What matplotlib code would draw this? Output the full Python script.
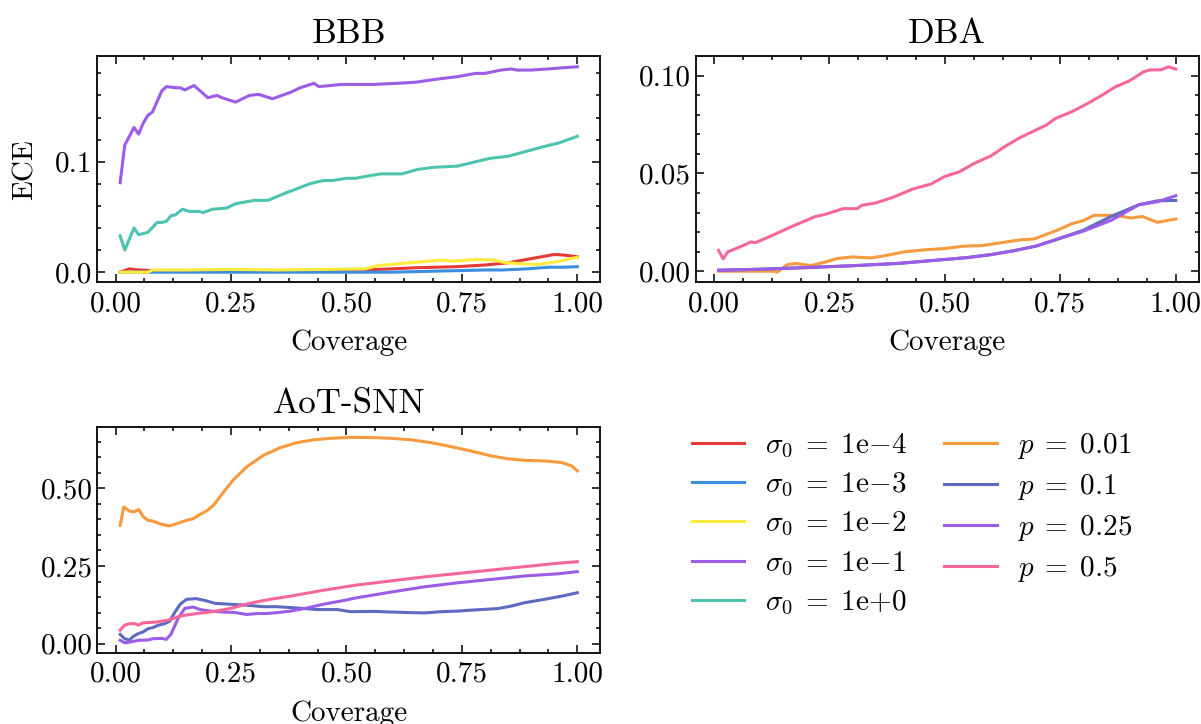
import matplotlib
matplotlib.use("Agg")
import matplotlib.pyplot as plt
from matplotlib.ticker import AutoMinorLocator

plt.rcParams.update({
    "font.family": "serif",
    "font.serif": ["cmr10"],
    "mathtext.fontset": "cm",
    "axes.formatter.use_mathtext": True,
    "font.size": 21,
    "axes.linewidth": 1.3,
    "xtick.direction": "in",
    "ytick.direction": "in",
    "xtick.top": True,
    "ytick.right": True,
    "xtick.major.size": 6,
    "ytick.major.size": 6,
    "xtick.minor.size": 3,
    "ytick.minor.size": 3,
    "xtick.major.width": 1.1,
    "ytick.major.width": 1.1,
    "xtick.minor.width": 1.1,
    "ytick.minor.width": 1.1,
    "xtick.minor.visible": True,
    "ytick.minor.visible": True,
})

# ---- BBB (sigma_0 sweep) ----
bbb_s4_cov = [0.01, 0.03, 0.05, 0.10, 0.20, 0.30, 0.40, 0.50, 0.57, 0.65, 0.74, 0.80, 0.85, 0.91, 0.95, 0.97, 1.00]
bbb_s4_ece = [0.000, 0.003, 0.002, 0.001, 0.001, 0.001, 0.001, 0.002, 0.0025, 0.004, 0.005, 0.0065, 0.0085, 0.013, 0.016, 0.0155, 0.014]

bbb_s3_cov = [0.01, 0.10, 0.20, 0.30, 0.40, 0.50, 0.60, 0.70, 0.80, 0.84, 0.89, 0.94, 0.97, 1.00]
bbb_s3_ece = [0.000, 0.000, 0.000, 0.000, 0.000, 0.000, 0.000, 0.001, 0.002, 0.002, 0.003, 0.0045, 0.0045, 0.005]

bbb_s2_cov = [0.01, 0.07, 0.08, 0.15, 0.25, 0.35, 0.45, 0.54, 0.57, 0.61, 0.65, 0.71, 0.73, 0.78, 0.82, 0.84, 0.88, 0.915, 0.96, 1.00]
bbb_s2_ece = [0.000, 0.000, 0.002, 0.002, 0.0025, 0.002, 0.0025, 0.003, 0.006, 0.0075, 0.009, 0.011, 0.010, 0.0115, 0.011, 0.009, 0.0075, 0.007, 0.0097, 0.0136]

bbb_s1_cov = [0.01, 0.02, 0.04, 0.05, 0.06, 0.07, 0.08, 0.10, 0.11, 0.13, 0.14, 0.15, 0.17, 0.20, 0.22, 0.23, 0.26, 0.29, 0.31, 0.34, 0.36, 0.38, 0.40,
              0.43, 0.44, 0.49, 0.56, 0.61, 0.65, 0.70, 0.74, 0.78, 0.80, 0.835, 0.857, 0.87, 0.90, 0.937, 0.966, 1.00]
bbb_s1_ece = [0.081, 0.115, 0.131, 0.125, 0.135, 0.142, 0.145, 0.164, 0.168, 0.167, 0.167, 0.165, 0.169, 0.158, 0.160, 0.158, 0.154, 0.160, 0.161, 0.157, 0.160, 0.163, 0.167,
              0.171, 0.168, 0.170, 0.170, 0.171, 0.172, 0.175, 0.177, 0.180, 0.180, 0.183, 0.184, 0.183, 0.183, 0.184, 0.185, 0.186]

bbb_s0_cov = [0.01, 0.02, 0.04, 0.05, 0.07, 0.09, 0.10, 0.11, 0.12, 0.13, 0.145, 0.16, 0.18, 0.19, 0.21, 0.24, 0.26, 0.30, 0.33, 0.37, 0.39, 0.42, 0.45, 0.47,
              0.50, 0.52, 0.545, 0.575, 0.62, 0.654, 0.69, 0.74, 0.76, 0.81, 0.85, 0.886, 0.93, 0.96, 1.00]
bbb_s0_ece = [0.033, 0.020, 0.040, 0.034, 0.036, 0.045, 0.045, 0.046, 0.051, 0.052, 0.057, 0.055, 0.055, 0.054, 0.057, 0.058, 0.062, 0.065, 0.065, 0.072, 0.075, 0.080, 0.083, 0.083,
              0.085, 0.085, 0.087, 0.089, 0.089, 0.093, 0.095, 0.096, 0.098, 0.103, 0.105, 0.109, 0.114, 0.117, 0.123]

# ---- DBA (p sweep) ----
dba_p001_cov = [0.01, 0.13, 0.137, 0.159, 0.179, 0.21, 0.243, 0.267, 0.30, 0.34, 0.372, 0.412, 0.46, 0.50, 0.54, 0.58, 0.62, 0.662, 0.694, 0.718, 0.75,
                0.775, 0.80, 0.823, 0.847, 0.871, 0.903, 0.928, 0.96, 1.00]
dba_p001_ece = [0.000, 0.000, -0.0005, 0.0034, 0.0039, 0.0029, 0.0048, 0.0065, 0.0073, 0.0068, 0.008, 0.0099, 0.011, 0.0116, 0.0128, 0.0131, 0.0145, 0.016, 0.0165, 0.0187, 0.0216,
                0.0243, 0.0259, 0.0286, 0.0286, 0.0286, 0.0272, 0.028, 0.025, 0.0267]

dba_p01_cov = [0.01, 0.10, 0.20, 0.30, 0.40, 0.50, 0.55, 0.60, 0.65, 0.70, 0.75, 0.80, 0.86, 0.92, 0.96, 1.00]
dba_p01_ece = [0.0005, 0.001, 0.0019, 0.0028, 0.004, 0.006, 0.007, 0.0085, 0.0105, 0.013, 0.0168, 0.021, 0.028, 0.034, 0.036, 0.0362]

dba_p025_cov = [0.01, 0.10, 0.20, 0.30, 0.40, 0.50, 0.55, 0.60, 0.65, 0.70, 0.75, 0.80, 0.86, 0.92, 0.96, 1.00]
dba_p025_ece = [0.0005, 0.001, 0.0018, 0.0028, 0.004, 0.006, 0.007, 0.0085, 0.0105, 0.013, 0.017, 0.0205, 0.026, 0.034, 0.0355, 0.0386]

dba_p05_cov = [0.01, 0.02, 0.03, 0.06, 0.08, 0.09, 0.13, 0.17, 0.22, 0.24, 0.28, 0.31, 0.32, 0.35, 0.39, 0.43, 0.47, 0.50, 0.53, 0.565, 0.60, 0.63,
               0.66, 0.69, 0.72, 0.74, 0.775, 0.81, 0.84, 0.87, 0.90, 0.93, 0.944, 0.968, 0.984, 1.00]
dba_p05_ece = [0.0107, 0.0063, 0.0099, 0.0128, 0.015, 0.0146, 0.0187, 0.023, 0.028, 0.029, 0.032, 0.032, 0.0337, 0.0349, 0.038, 0.042, 0.0446, 0.0485, 0.0507, 0.0553, 0.059, 0.0638,
               0.068, 0.0714, 0.0748, 0.0782, 0.0816, 0.0859, 0.090, 0.0944, 0.0974, 0.102, 0.103, 0.103, 0.1046, 0.1034]

# ---- AoT-SNN (p sweep) ----
aot_p001_cov = [0.01, 0.018, 0.03, 0.04, 0.05, 0.06, 0.07, 0.08, 0.10, 0.117, 0.132, 0.154, 0.168, 0.183, 0.197, 0.212, 0.233, 0.255, 0.284, 0.32,
                0.357, 0.393, 0.429, 0.466, 0.509, 0.56, 0.596, 0.64, 0.683, 0.727, 0.77, 0.814, 0.85, 0.886, 0.93, 0.966, 0.988, 1.00]
aot_p001_ece = [0.381, 0.440, 0.427, 0.424, 0.432, 0.409, 0.397, 0.395, 0.384, 0.379, 0.386, 0.397, 0.402, 0.416, 0.427, 0.445, 0.486, 0.527, 0.569, 0.606,
                0.631, 0.647, 0.656, 0.661, 0.664, 0.663, 0.661, 0.656, 0.647, 0.634, 0.620, 0.604, 0.595, 0.590, 0.588, 0.583, 0.572, 0.556]

aot_p01_cov = [0.01, 0.02, 0.03, 0.04, 0.05, 0.06, 0.07, 0.081, 0.092, 0.107, 0.117, 0.128, 0.14, 0.154, 0.175, 0.194, 0.215, 0.248, 0.284, 0.32,
               0.35, 0.393, 0.436, 0.48, 0.509, 0.56, 0.596, 0.64, 0.669, 0.705, 0.741, 0.77, 0.828, 0.857, 0.886, 0.93, 0.966, 1.00]
aot_p01_ece = [0.030, 0.016, 0.012, 0.025, 0.033, 0.038, 0.048, 0.052, 0.059, 0.065, 0.072, 0.100, 0.127, 0.143, 0.145, 0.139, 0.130, 0.127, 0.124, 0.119,
               0.119, 0.115, 0.110, 0.110, 0.103, 0.104, 0.102, 0.100, 0.099, 0.103, 0.105, 0.108, 0.113, 0.121, 0.132, 0.143, 0.153, 0.164]

aot_p025_cov = [0.01, 0.02, 0.03, 0.05, 0.07, 0.08, 0.10, 0.11, 0.12, 0.135, 0.15, 0.168, 0.183, 0.205, 0.233, 0.26, 0.284, 0.306, 0.327, 0.35,
                0.379, 0.415, 0.45, 0.487, 0.523, 0.56, 0.596, 0.669, 0.741, 0.814, 0.886, 0.959, 1.00]
aot_p025_ece = [0.011, 0.003, 0.005, 0.011, 0.012, 0.016, 0.017, 0.014, 0.030, 0.080, 0.114, 0.118, 0.110, 0.105, 0.102, 0.100, 0.094, 0.097, 0.097, 0.100,
                0.105, 0.115, 0.127, 0.137, 0.148, 0.157, 0.166, 0.183, 0.196, 0.207, 0.218, 0.225, 0.232]

aot_p05_cov = [0.01, 0.02, 0.03, 0.04, 0.05, 0.06, 0.09, 0.117, 0.14, 0.175, 0.205, 0.248, 0.29, 0.335, 0.379, 0.45, 0.523, 0.596, 0.669, 0.741,
               0.814, 0.886, 0.959, 1.00]
aot_p05_ece = [0.044, 0.060, 0.064, 0.065, 0.060, 0.067, 0.070, 0.077, 0.089, 0.097, 0.102, 0.113, 0.130, 0.143, 0.153, 0.172, 0.189, 0.202, 0.215, 0.226,
               0.237, 0.248, 0.259, 0.264]

sigma_labels = [r"$\sigma_0 \;=\; 1\mathrm{e}{-}4$", r"$\sigma_0 \;=\; 1\mathrm{e}{-}3$", r"$\sigma_0 \;=\; 1\mathrm{e}{-}2$",
                r"$\sigma_0 \;=\; 1\mathrm{e}{-}1$", r"$\sigma_0 \;=\; 1\mathrm{e}{+}0$"]
p_labels = [r"$p \;=\; 0.01$", r"$p \;=\; 0.1$", r"$p \;=\; 0.25$", r"$p \;=\; 0.5$"]

sigma_colors = ["#e53935", "#3b8de0", "#ffeb3b", "#9b5de5", "#4dc4b0"]
p_colors = ["#f79a3e", "#5c6bc0", "#9b5de5", "#f5679a"]

lw = 2.2

fig, axes = plt.subplots(2, 2, figsize=(12.01, 7.24), dpi=100)
ax_bbb, ax_dba = axes[0]
ax_aot, ax_leg = axes[1]

bbb = [(bbb_s4_cov, bbb_s4_ece), (bbb_s3_cov, bbb_s3_ece), (bbb_s2_cov, bbb_s2_ece),
       (bbb_s1_cov, bbb_s1_ece), (bbb_s0_cov, bbb_s0_ece)]
handles = []
for (x, y), c, lab in zip(bbb, sigma_colors, sigma_labels):
    h, = ax_bbb.plot(x, y, color=c, lw=lw, label=lab)
    handles.append(h)

dba = [(dba_p001_cov, dba_p001_ece), (dba_p01_cov, dba_p01_ece),
       (dba_p025_cov, dba_p025_ece), (dba_p05_cov, dba_p05_ece)]
for (x, y), c, lab in zip(dba, p_colors, p_labels):
    h, = ax_dba.plot(x, y, color=c, lw=lw, label=lab)
    handles.append(h)

aot = [(aot_p001_cov, aot_p001_ece), (aot_p01_cov, aot_p01_ece),
       (aot_p025_cov, aot_p025_ece), (aot_p05_cov, aot_p05_ece)]
for (x, y), c in zip(aot, p_colors):
    ax_aot.plot(x, y, color=c, lw=lw)

xt = [0.0, 0.25, 0.5, 0.75, 1.0]
xt_labels = ["0.00", "0.25", "0.50", "0.75", "1.00"]
for ax, title in [(ax_bbb, "BBB"), (ax_dba, "DBA"), (ax_aot, "AoT-SNN")]:
    ax.set_title(title, pad=10)
    ax.set_xlabel("Coverage", labelpad=9)
    ax.set_xticks(xt)
    ax.set_xticklabels(xt_labels)
    ax.tick_params(axis="x", which="major", pad=6)
    ax.xaxis.set_minor_locator(AutoMinorLocator(4))
    ax.yaxis.set_minor_locator(AutoMinorLocator(5))

ax_bbb.set_ylabel("ECE", labelpad=12)
ax_bbb.set_yticks([0.0, 0.1])
ax_bbb.set_yticklabels(["0.0", "0.1"])
ax_dba.set_yticks([0.0, 0.05, 0.10])
ax_dba.set_yticklabels(["0.00", "0.05", "0.10"])
ax_aot.set_yticks([0.0, 0.25, 0.5])
ax_aot.set_yticklabels(["0.00", "0.25", "0.50"])

ax_leg.axis("off")
ax_leg.legend(handles=handles, ncol=2, frameon=False, loc="upper left",
              bbox_to_anchor=(-0.06, 1.10), handlelength=1.8, handletextpad=0.7,
              columnspacing=1.3, labelspacing=0.38)

fig.subplots_adjust(left=0.081, right=0.998, top=0.922, bottom=0.098, wspace=0.19, hspace=0.64)
fig.savefig("out.png", dpi=100)
